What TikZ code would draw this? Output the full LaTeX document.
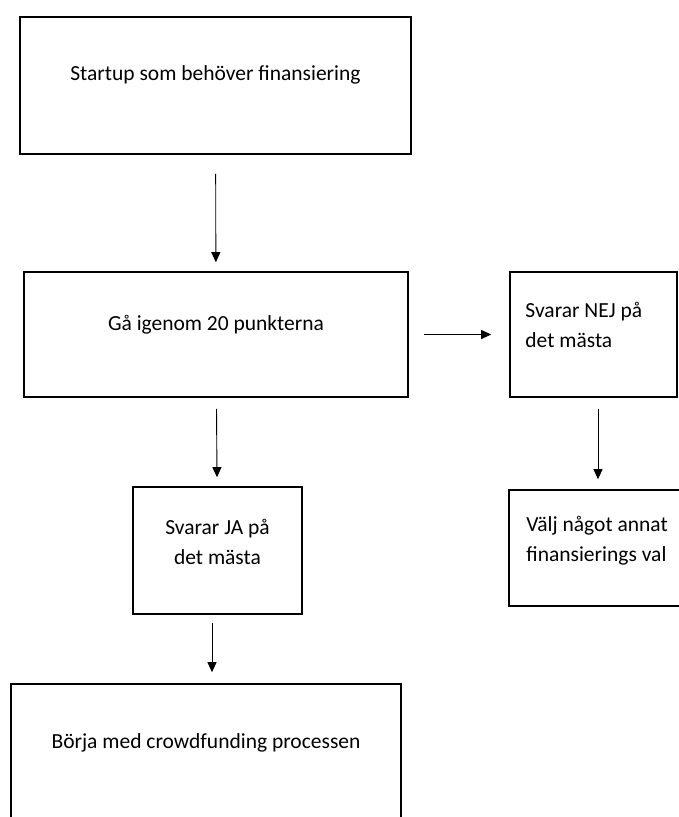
\documentclass[tikz,border=0pt]{standalone}
\usepackage{fontspec}
\setmainfont{Carlito}
\usetikzlibrary{positioning, arrows.meta}

\begin{document}
\begin{tikzpicture}[x=1pt, y=-1pt,
  box/.style={shape=rectangle, draw=black, line width=1.6pt, inner sep=0pt},
  txt/.style={inner sep=0pt, font=\fontsize{21.5}{30}\selectfont},
  pil/.style={-{Triangle[width=9pt,length=10pt]}, line width=0.9pt}]
\useasboundingbox (0,0) rectangle (678,817);
\node[box, minimum width=391pt, minimum height=137pt] (start) at (215.5,85.5) {};
\node[box, minimum width=384pt, minimum height=125pt] (gaa) at (216,334.5) {};
\node[box, minimum width=167pt, minimum height=125pt] (nej) at (593.5,334.5) {};
\node[box, minimum width=175pt, minimum height=116pt] (valj) at (596.5,548) {};
\node[box, minimum width=169pt, minimum height=127pt] (ja) at (217.5,550.5) {};
\node[box, minimum width=390pt, minimum height=156pt] (borja) at (206,762) {};
\node[txt, below=64pt of start.north, anchor=base] (starttxt) {Startup som behöver finansiering};
\node[txt, below=59pt of gaa.north, anchor=base] (gaatxt) {Gå igenom 20 punkterna};
\node[txt, align=left, below right=76pt and 16pt of nej.north west, anchor=base west] (nejtxt) {Svarar NEJ på\\det mästa};
\node[txt, align=left, below right=72pt and 18pt of valj.north west, anchor=base west] (valjtxt) {Välj något annat\\finansierings val};
\node[txt, align=center, below=78pt of ja.north, anchor=base] (jatxt) {Svarar JA på\\det mästa};
\node[txt, below=65pt of borja.north, anchor=base] (borjatxt) {Börja med crowdfunding processen};
\draw[pil, shorten <=19pt, shorten >=9pt] (start) -- (gaa);
\draw[pil, shorten <=15pt, shorten >=18pt] (gaa) -- (nej);
\draw[pil, shorten <=11pt, shorten >=9pt] (gaa) -- (ja);
\draw[pil, shorten <=11pt, shorten >=10pt] ([xshift=4.5pt]nej.south) -- ([xshift=1.5pt]valj.north);
\draw[pil, shorten <=8pt, shorten >=11pt] ([xshift=-5.5pt]ja.south) -- ([xshift=6pt]borja.north);
\end{tikzpicture}
\end{document}
